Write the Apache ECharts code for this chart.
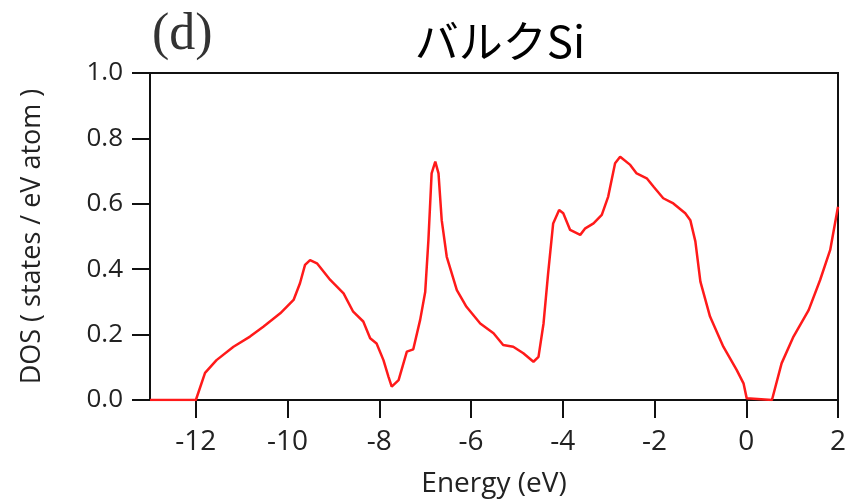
<!DOCTYPE html>
<html>
<head>
<meta charset="utf-8">
<script src="https://cdn.jsdelivr.net/npm/echarts@6/dist/echarts.min.js"></script>
<style>
	html, body { margin: 0; padding: 0; background: #fff; }
	#chart { width: 852px; height: 504px; }
</style>
</head>
<body>
<div id="chart"></div>
<script>
// Energy (eV) and DOS
var energy = [
	-13.0, -12.0, -11.8, -11.55, -11.18, -10.82, -10.53, -10.16, -9.87, -9.73,
	-9.62, -9.51, -9.36, -9.07, -8.78, -8.57, -8.35, -8.2, -8.06, -7.91,
	-7.8, -7.73, -7.58, -7.4, -7.26, -7.11, -7.0, -6.93, -6.86, -6.78,
	-6.71, -6.64, -6.53, -6.31, -6.1, -5.8, -5.51, -5.3, -5.08, -4.86,
	-4.64, -4.53, -4.42, -4.32, -4.21, -4.08, -3.99, -3.84, -3.62, -3.51,
	-3.33, -3.15, -3.01, -2.86, -2.75, -2.53, -2.39, -2.17, -2.02, -1.81,
	-1.59, -1.33, -1.22, -1.11, -1.0, -0.79, -0.5, -0.21, -0.06, 0.01,
	0.56, 0.77, 1.03, 1.36, 1.61, 1.83, 2.0
];
var dos = [
	0.0, 0.0, 0.083, 0.122, 0.163, 0.194, 0.224, 0.265, 0.306, 0.357,
	0.413, 0.428, 0.418, 0.367, 0.326, 0.27, 0.24, 0.189, 0.173, 0.122,
	0.071, 0.041, 0.061, 0.148, 0.155, 0.245, 0.33, 0.489, 0.693, 0.729,
	0.693, 0.55, 0.438, 0.336, 0.285, 0.234, 0.204, 0.168, 0.163, 0.143,
	0.117, 0.132, 0.234, 0.387, 0.54, 0.581, 0.571, 0.52, 0.505, 0.525,
	0.54, 0.566, 0.622, 0.724, 0.744, 0.719, 0.693, 0.678, 0.652, 0.617,
	0.601, 0.571, 0.55, 0.485, 0.362, 0.255, 0.163, 0.092, 0.051, 0.005,
	0.0, 0.112, 0.194, 0.275, 0.367, 0.459, 0.591
];
var xTicks = [-12, -10, -8, -6, -4, -2, 0, 2];

var chart = echarts.init(document.getElementById("chart"));

var points = energy.map(function (e, i) {
	return [e, dos[i]];
});

var axisFont = "'Open Sans', 'DejaVu Sans', sans-serif";

var option = {
	animation: false,
	backgroundColor: "#fff",
	title: [
		{
			text: "バルクSi",
			left: 495,
			top: 14,
			textAlign: "center",
			textStyle: {
				fontFamily: "'Noto Sans CJK JP', sans-serif",
				fontSize: 44,
				fontWeight: "normal",
				color: "#000",
			},
		},
		{
			text: "(d)",
			left: 147,
			top: 4,
			textStyle: {
				fontFamily: "'Liberation Serif', 'DejaVu Serif', serif",
				fontSize: 52,
				fontWeight: "normal",
				color: "#333",
			},
		},
	],
	grid: {
		left: 150,
		right: 14,
		top: 73,
		bottom: 104,
		show: true,
		borderColor: "#111",
		borderWidth: 2,
	},
	xAxis: {
		type: "value",
		min: -13,
		max: 2,
		name: "Energy (eV)",
		nameLocation: "middle",
		nameGap: 70,
		nameTextStyle: {
			fontFamily: axisFont,
			fontSize: 28,
			color: "#222",
		},
		axisLine: { show: true, onZero: false, lineStyle: { color: "#111", width: 2 } },
		axisTick: {
			show: true,
			length: 18,
			lineStyle: { color: "#111", width: 2 },
			customValues: xTicks,
		},
		axisLabel: {
			fontFamily: axisFont,
			fontSize: 28,
			color: "#222",
			margin: 28,
			customValues: xTicks,
		},
		splitLine: { show: false },
	},
	yAxis: {
		type: "value",
		min: 0,
		max: 1,
		interval: 0.2,
		name: "DOS ( states / eV atom )",
		nameLocation: "middle",
		nameGap: 104,
		nameTextStyle: {
			fontFamily: axisFont,
			fontSize: 27,
			color: "#222",
		},
		axisLine: { show: true, onZero: false, lineStyle: { color: "#111", width: 2 } },
		axisTick: {
			show: true,
			length: 18,
			lineStyle: { color: "#111", width: 2 },
		},
		axisLabel: {
			fontFamily: axisFont,
			fontSize: 26,
			color: "#222",
			margin: 27,
			formatter: function (v) {
				return v.toFixed(1);
			},
		},
		splitLine: { show: false },
	},
	series: [
		{
			type: "line",
			data: points,
			showSymbol: false,
			smooth: false,
			clip: true,
			lineStyle: { color: "#ff1a1a", width: 2.5 },
		},
	],
};

chart.setOption(option);
</script>
</body>
</html>
